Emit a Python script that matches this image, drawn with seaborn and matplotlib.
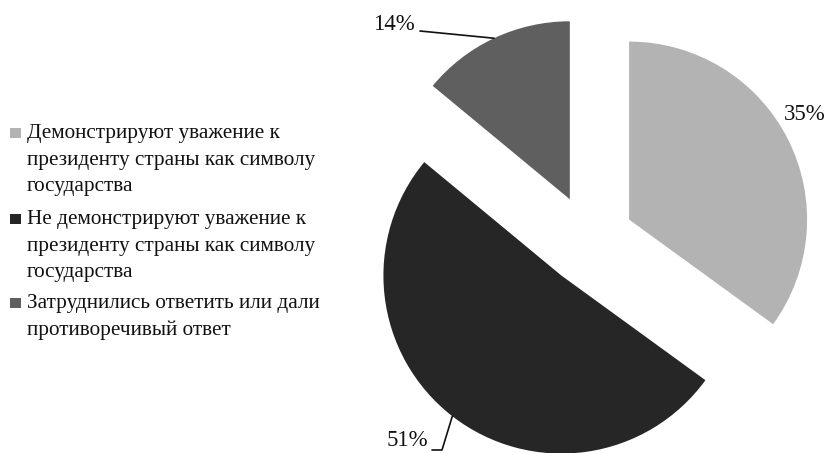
import numpy as np
import matplotlib
matplotlib.use("Agg")
import matplotlib.pyplot as plt
from matplotlib.patches import Rectangle
import seaborn as sns

# ---- data ----
categories = [
    "Демонстрируют уважение к\nпрезиденту страны как символу\nгосударства",
    "Не демонстрируют уважение к\nпрезиденту страны как символу\nгосударства",
    "Затруднились ответить или дали\nпротиворечивый ответ",
]
values = [35, 51, 14]
value_labels = ["35%", "51%", "14%"]
colors = ["#b3b3b3", "#262626", "#5f5f5f"]

sns.set_theme(style="white")
plt.rcParams["font.family"] = ["Liberation Serif", "DejaVu Serif"]

W, H = 830, 453
fig = plt.figure(figsize=(W / 100, H / 100), dpi=100)
ax = fig.add_axes([0, 0, 1, 1])

center = (589, H - 240)
radius = 178
expl = 45

palette = sns.color_palette(colors)
wedges, _ = ax.pie(values, colors=palette, startangle=90, counterclock=False,
                   radius=radius, center=center, explode=[expl] * 3,
                   wedgeprops=dict(linewidth=0), frame=True)
ax.set_xlim(0, W)
ax.set_ylim(0, H)
ax.set_aspect("equal")
ax.axis("off")


def arc_point(w, frac=1.0):
    mid = np.deg2rad(0.5 * (w.theta1 + w.theta2))
    cx, cy = w.center
    return cx + frac * w.r * np.cos(mid), cy + frac * w.r * np.sin(mid)


lab_size = 16.5
# 35% label (no leader)
ax.text(805, H - 114, value_labels[0], ha="center", va="center",
        fontsize=lab_size, color="#111111")
# 14% label with leader
x14, y14 = arc_point(wedges[2])
ax.text(415, H - 25, value_labels[2], ha="right", va="center",
        fontsize=lab_size, color="#111111")
ax.plot([420, x14], [H - 31, y14], color="#111111", lw=1.2)
# 51% label with leader
x51, y51 = arc_point(wedges[1])
ax.text(428, H - 441, value_labels[1], ha="right", va="center",
        fontsize=lab_size, color="#111111")
ax.plot([432, 442, x51], [H - 450, H - 450, y51], color="#111111", lw=1.2)

# ---- legend (handle aligned with first line) ----
leg_size = 15.3
baselines = [139, 225, 309]
for lab, col, b in zip(categories, palette, baselines):
    ax.add_patch(Rectangle((10, H - b + 1), 11, 10, facecolor=col,
                           edgecolor="none", clip_on=False))
    ax.text(27, H - b + 14.8, lab, ha="left", va="top", fontsize=leg_size,
            color="#111111", linespacing=1.53)

fig.savefig("out.png", dpi=100)
